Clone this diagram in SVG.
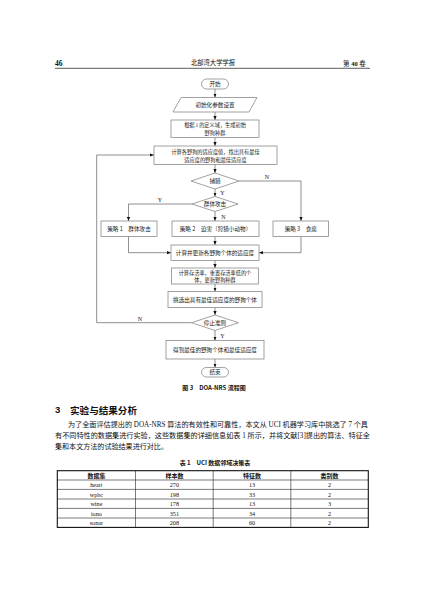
<svg xmlns="http://www.w3.org/2000/svg" width="427" height="589" viewBox="0 0 427 589">
<defs>
<marker id="ah" markerUnits="userSpaceOnUse" markerWidth="4" markerHeight="4" viewBox="0 0 4 4" refX="4" refY="2" orient="auto">
<path d="M0,0.4 L4,2 L0,3.6 Z" fill="#111"/>
</marker>
<style>
.bx{fill:#fff;stroke:#8a8a8a;stroke-width:0.8}
.ft{font-family:"Noto Sans CJK SC",sans-serif;font-size:5.6px;fill:#222;text-anchor:middle;dominant-baseline:central}
.f2{font-size:5.2px}
.yn{font-family:"Liberation Serif",serif;font-size:6px;fill:#222;text-anchor:middle;dominant-baseline:central}
.cn{fill:none;stroke:#444;stroke-width:0.6}
.ar{fill:none;stroke:#444;stroke-width:0.6;marker-end:url(#ah)}
.body{font-family:"Liberation Serif","Noto Sans CJK SC",serif;font-size:7.4px;fill:#111;dominant-baseline:central}
.tb{font-family:"Liberation Serif","Noto Sans CJK SC",serif;font-size:6.2px;fill:#111;text-anchor:middle;dominant-baseline:central}
.th{font-family:"Noto Sans CJK SC",sans-serif;font-size:6px;font-weight:bold;fill:#111;text-anchor:middle;dominant-baseline:central}
</style>
</defs>
<rect width="427" height="589" fill="#fff"/>

<!-- page header -->
<g id="header">
<text x="55" y="63" font-family="Liberation Serif,serif" font-weight="bold" font-size="7.5" dominant-baseline="central" fill="#111">46</text>
<text x="213" y="62" font-family="Noto Sans CJK SC,sans-serif" font-size="6.3" text-anchor="middle" dominant-baseline="central" fill="#111">北部湾大学学报</text>
<text x="343" y="63" font-family="Liberation Serif,Noto Sans CJK SC,serif" font-size="6.5" dominant-baseline="central" fill="#111">第 <tspan font-weight="bold">40</tspan> 卷</text>
<line x1="55" y1="68.3" x2="370" y2="68.3" stroke="#333" stroke-width="0.8"/>
</g>

<!-- connectors -->
<g id="connectors">
<line class="ar" x1="215" y1="89" x2="215" y2="97.5"/>
<line class="ar" x1="215" y1="112" x2="215" y2="120"/>
<line class="ar" x1="215" y1="137.5" x2="215" y2="146"/>
<line class="ar" x1="215" y1="164.5" x2="215" y2="173"/>
<polyline class="ar" points="239,181 301,181 301,221"/>
<line class="ar" x1="215" y1="189" x2="215" y2="196.5"/>
<polyline class="ar" points="192,204 128.5,204 128.5,221"/>
<line class="ar" x1="215" y1="211.5" x2="215" y2="221"/>
<polyline class="ar" points="128.5,236.5 128.5,252.7 171,252.7"/>
<line class="ar" x1="215" y1="236.5" x2="215" y2="245"/>
<polyline class="ar" points="301,236.5 301,252.7 259,252.7"/>
<line class="ar" x1="215" y1="260.5" x2="215" y2="268"/>
<line class="ar" x1="215" y1="284" x2="215" y2="291.5"/>
<line class="ar" x1="215" y1="307.5" x2="215" y2="315"/>
<polyline class="ar" points="191.5,322.7 96.7,322.7 96.7,155 154,155"/>
<line class="ar" x1="215" y1="330.5" x2="215" y2="340.5"/>
<line class="ar" x1="215" y1="359" x2="215" y2="367.5"/>
<text class="yn" x="267" y="177">N</text>
<text class="yn" x="222.5" y="192.5">Y</text>
<text class="yn" x="160" y="199.5">Y</text>
<text class="yn" x="223.5" y="216.5">N</text>
<text class="yn" x="140" y="319">N</text>
<text class="yn" x="222.5" y="336">Y</text>
</g>

<!-- nodes -->
<g id="n_start">
<rect class="bx" x="201.5" y="79" width="27" height="10" rx="5"/>
<text class="ft" x="215" y="84">开始</text>
</g>
<g id="n_init">
<polygon class="bx" points="181,97.5 257,97.5 249,112 173,112"/>
<text class="ft" x="215" y="104.8">初始化参数设置</text>
</g>
<g id="n_gen">
<rect class="bx" x="171" y="120" width="88" height="17.5"/>
<text class="ft f2" x="215" y="124.9">根据 <tspan font-style="italic" font-family="Liberation Serif,serif">λ</tspan> 的定义域，生成初始</text>
<text class="ft f2" x="215" y="132.6">野狗种群</text>
</g>
<g id="n_fit">
<rect class="bx" x="154" y="146" width="123" height="18.5"/>
<text class="ft f2" x="215.5" y="151.4">计算各野狗的适应度值，找出具有最佳</text>
<text class="ft f2" x="215.5" y="159.1">适应度的野狗和最佳适应度</text>
</g>
<g id="n_hunt">
<polygon class="bx" points="215,173 239,181 215,189 191,181"/>
<text class="ft" x="215" y="181">捕猎</text>
</g>
<g id="n_group">
<polygon class="bx" points="215,196.5 238,204 215,211.5 192,204"/>
<text class="ft" x="215" y="204">群体攻击</text>
</g>
<g id="n_s1">
<rect class="bx" x="101" y="221" width="56" height="15.5"/>
<text class="ft" x="129" y="228.8">策略 1　群体攻击</text>
</g>
<g id="n_s2">
<rect class="bx" x="172" y="221" width="87" height="15.5"/>
<text class="ft" x="215.5" y="228.8">策略 2　迫害（狩猎小动物）</text>
</g>
<g id="n_s3">
<rect class="bx" x="273" y="221" width="55.5" height="15.5"/>
<text class="ft" x="300.8" y="228.8">策略 3　食腐</text>
</g>
<g id="n_update">
<rect class="bx" x="171" y="245" width="88" height="15.5"/>
<text class="ft" x="215" y="252.8">计算并更新各野狗个体的适应度</text>
</g>
<g id="n_surv">
<rect class="bx" x="171.5" y="268" width="87" height="16"/>
<text class="ft f2" x="215" y="272.3">计算存活率，重置存活率低的个</text>
<text class="ft f2" x="215" y="279.9">体，更新野狗种群</text>
</g>
<g id="n_pick">
<rect class="bx" x="168" y="291.5" width="94" height="16"/>
<text class="ft" x="215" y="299.5">挑选出具有最佳适应度的野狗个体</text>
</g>
<g id="n_stop">
<polygon class="bx" points="215,315 238.5,322.7 215,330.5 191.5,322.7"/>
<text class="ft" x="215" y="322.8">停止准则</text>
</g>
<g id="n_best">
<rect class="bx" x="166" y="340.5" width="98" height="18.5"/>
<text class="ft" x="215" y="349.8">得到最佳的野狗个体和最佳适应度</text>
</g>
<g id="n_end">
<rect class="bx" x="201.5" y="367.5" width="27" height="9.5" rx="4.75"/>
<text class="ft" x="215" y="372.3">结束</text>
</g>

<!-- caption and body -->
<g id="caption">
<text x="214" y="387" font-family="Noto Sans CJK SC,sans-serif" font-size="6" font-weight="bold" text-anchor="middle" dominant-baseline="central" fill="#111">图 3　DOA-NRS 流程图</text>
</g>
<g id="section">
<text x="55" y="409.5" font-family="Liberation Sans,sans-serif" font-size="9.5" font-weight="bold" dominant-baseline="central" fill="#111">3</text>
<text x="70" y="409.5" font-family="Noto Sans CJK SC,sans-serif" font-size="9.5" font-weight="bold" dominant-baseline="central" fill="#111" textLength="67" lengthAdjust="spacingAndGlyphs">实验与结果分析</text>
<text class="body" x="68" y="424.5" textLength="300" lengthAdjust="spacingAndGlyphs">为了全面评估提出的 DOA-NRS 算法的有效性和可靠性，本文从 UCI 机器学习库中挑选了 7 个具</text>
<text class="body" x="55" y="435.3" textLength="315" lengthAdjust="spacingAndGlyphs">有不同特性的数据集进行实验，这些数据集的详细信息如表 1 所示，并将文献[3]提出的算法、特征全</text>
<text class="body" x="55" y="446" textLength="113" lengthAdjust="spacingAndGlyphs">集和本文方法的试验结果进行对比。</text>
</g>

<g id="table">
<text x="215" y="462.7" font-family="Noto Sans CJK SC,sans-serif" font-size="6" font-weight="bold" text-anchor="middle" dominant-baseline="central" fill="#111">表 1　UCI 数据邻域决策表</text>
<g stroke="#222" stroke-width="0.6" fill="none">
<line x1="57.3" y1="480" x2="368.3" y2="480"/>
<line x1="57.3" y1="489.4" x2="368.3" y2="489.4"/>
<line x1="57.3" y1="499" x2="368.3" y2="499"/>
<line x1="57.3" y1="508.4" x2="368.3" y2="508.4"/>
<line x1="57.3" y1="518" x2="368.3" y2="518"/>
<line x1="135.5" y1="470.7" x2="135.5" y2="527.4"/>
<line x1="213.2" y1="470.7" x2="213.2" y2="527.4"/>
<line x1="290.8" y1="470.7" x2="290.8" y2="527.4"/>
</g>
<rect x="57.3" y="470.7" width="311" height="56.7" fill="none" stroke="#111" stroke-width="1.1"/>
<text class="th" x="96.4" y="475.4">数据集</text>
<text class="th" x="174.4" y="475.4">样本数</text>
<text class="th" x="252" y="475.4">特征数</text>
<text class="th" x="329.6" y="475.4">类别数</text>
<text class="tb" x="96.4" y="484.8">heart</text><text class="tb" x="174.4" y="484.8">270</text><text class="tb" x="252" y="484.8">13</text><text class="tb" x="329.6" y="484.8">2</text>
<text class="tb" x="96.4" y="494.3">wpbc</text><text class="tb" x="174.4" y="494.3">198</text><text class="tb" x="252" y="494.3">33</text><text class="tb" x="329.6" y="494.3">2</text>
<text class="tb" x="96.4" y="503.8">wine</text><text class="tb" x="174.4" y="503.8">178</text><text class="tb" x="252" y="503.8">13</text><text class="tb" x="329.6" y="503.8">3</text>
<text class="tb" x="96.4" y="513.3">iono</text><text class="tb" x="174.4" y="513.3">351</text><text class="tb" x="252" y="513.3">34</text><text class="tb" x="329.6" y="513.3">2</text>
<text class="tb" x="96.4" y="522.8">sonar</text><text class="tb" x="174.4" y="522.8">208</text><text class="tb" x="252" y="522.8">60</text><text class="tb" x="329.6" y="522.8">2</text>
</g>
</svg>
